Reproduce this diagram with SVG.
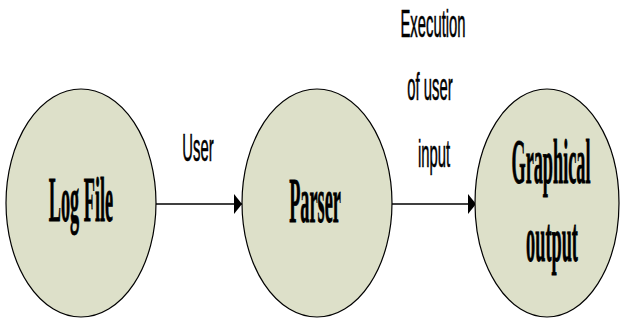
<svg xmlns="http://www.w3.org/2000/svg" width="623" height="324" viewBox="0 0 623 324">
  <style>
    .node { fill: #dde0c9; stroke: #000; stroke-width: 1.2; }
    .nlabel { font-family: "Liberation Serif", "Times New Roman", serif; font-weight: bold; font-size: 63px; fill: #000; stroke: #000; stroke-width: 0.8; text-anchor: middle; }
    .elabel { font-family: "Liberation Sans", Arial, sans-serif; font-size: 38px; fill: #000; stroke: #000; stroke-width: 0.6; text-anchor: middle; }
    .edge { stroke: #000; stroke-width: 1.5; fill: none; }
  </style>
  <defs>
    <marker id="arrow" markerUnits="userSpaceOnUse" markerWidth="9" markerHeight="20" refX="8" refY="10" orient="auto">
      <path d="M0,0 L8,10 L0,20 Z" fill="#000"/>
    </marker>
  </defs>

  <rect width="623" height="324" fill="#fff"/>

  <g id="connectors">
    <line class="edge" x1="156" y1="204" x2="242" y2="204" marker-end="url(#arrow)"/>
    <line class="edge" x1="392" y1="204" x2="476" y2="204" marker-end="url(#arrow)"/>
    <text class="elabel" transform="matrix(0.39,0,0,1,198,161)">User</text>
    <text class="elabel" transform="matrix(0.39,0,0,1,433,37)">Execution</text>
    <text class="elabel" transform="matrix(0.39,0,0,1,430,100)">of user</text>
    <text class="elabel" transform="matrix(0.39,0,0,1,434,167)">input</text>
  </g>

  <g id="log-file">
    <ellipse class="node" cx="81" cy="203" rx="75" ry="114"/>
    <text class="nlabel" transform="matrix(0.29,0,0,1,81,221)">Log File</text>
  </g>

  <g id="parser">
    <ellipse class="node" cx="317" cy="203" rx="75" ry="114"/>
    <text class="nlabel" transform="matrix(0.29,0,0,1,315,222)">Parser</text>
  </g>

  <g id="graphical-output">
    <ellipse class="node" cx="547" cy="203" rx="72" ry="114"/>
    <text class="nlabel" transform="matrix(0.29,0,0,1,551,183)">Graphical</text>
    <text class="nlabel" transform="matrix(0.29,0,0,1,552,261)">output</text>
  </g>
</svg>
